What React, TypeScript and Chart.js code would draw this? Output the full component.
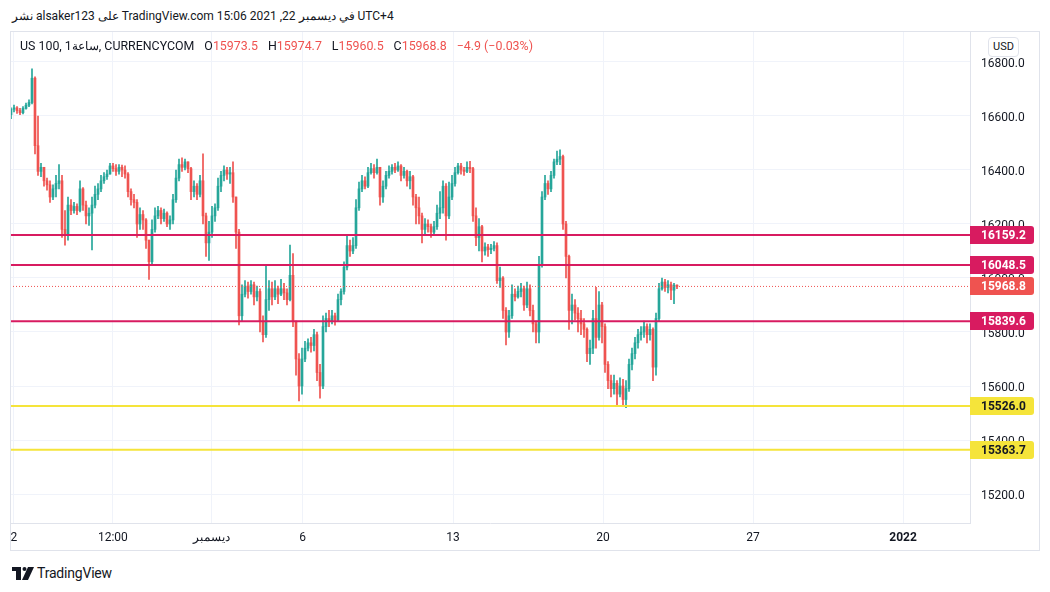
import React, { useEffect, useRef } from "react";
import { Chart, registerables } from "chart.js";

Chart.register(...registerables);

// ---- Data (hourly US 100 candles) ----
const OPEN_FIRST = 16605;
const CLOSES = [
  16625, 16630, 16620, 16612, 16628, 16640, 16650, 16740, 16490, 16395,
  16410, 16360, 16345, 16300, 16330, 16350, 16360, 16180, 16160, 16270,
  16250, 16265, 16250, 16330, 16270, 16230, 16240, 16270, 16310, 16330,
  16360, 16375, 16385, 16415, 16405, 16395, 16410, 16400, 16385, 16320,
  16290, 16280, 16200, 16235, 16215, 16140, 16060, 16180, 16230, 16250,
  16220, 16240, 16200, 16215, 16290, 16370, 16420, 16410, 16430, 16405,
  16320, 16340, 16310, 16360, 16230, 16130, 16170, 16230, 16260, 16340,
  16380, 16400, 16385, 16390, 16300, 16170, 15860, 15940, 15970, 15950,
  15975, 15930, 15950, 15840, 15790, 15920, 15960, 15930, 15960, 15940,
  15960, 15945, 15920, 16010, 15840, 15700, 15600, 15700, 15740, 15760,
  15750, 15790, 15650, 15600, 15820, 15850, 15840, 15860, 15845, 15920,
  15950, 16040, 16120, 16100, 16120, 16260, 16330, 16360, 16340, 16390,
  16405, 16390, 16410, 16300, 16340, 16380, 16395, 16410, 16400, 16415,
  16380, 16395, 16360, 16375, 16300, 16260, 16230, 16180, 16200, 16190,
  16170, 16190, 16240, 16260, 16340, 16230, 16300, 16350, 16390, 16415,
  16400, 16395, 16410, 16405, 16230, 16150, 16190, 16100, 16115, 16105,
  16110, 16120, 15990, 16000, 15880, 15800, 15860, 15940, 15930, 15950,
  15960, 15900, 15960, 15880, 15830, 15800, 16050, 16300, 16350, 16330,
  16380, 16430, 16440, 16450, 16200, 16080, 15880, 15900, 15870, 15850,
  15830, 15810, 15720, 15740, 15850, 15780, 15900, 15820, 15680, 15620,
  15590, 15610, 15570, 15600, 15550, 15590, 15680, 15720, 15760, 15790,
  15800, 15820, 15790, 15810, 15670, 15850, 15960, 15985, 15965, 15975,
  15955, 15973.5, 15968.8,
];
const HIGHS = [
  16630, 16640, 16635, 16628, 16635, 16648, 16660, 16775, 16745, 16600,
  16425, 16405, 16370, 16360, 16345, 16380, 16420, 16380, 16250, 16300,
  16290, 16280, 16275, 16360, 16335, 16285, 16260, 16300, 16340, 16350,
  16380, 16390, 16400, 16425, 16425, 16420, 16420, 16418, 16415, 16390,
  16330, 16310, 16290, 16260, 16250, 16220, 16140, 16215, 16260, 16265,
  16260, 16255, 16245, 16230, 16310, 16400, 16440, 16445, 16440, 16430,
  16410, 16360, 16350, 16380, 16460, 16240, 16210, 16265, 16275, 16370,
  16395, 16415, 16410, 16410, 16430, 16300, 16180, 15975, 15990, 15985,
  15990, 15985, 15970, 15960, 15860, 16050, 15990, 15985, 15990, 15970,
  15995, 15980, 15960, 16122, 16090, 15840, 15720, 15740, 15765, 15775,
  15780, 15810, 15800, 15680, 15860, 15870, 15880, 15880, 15870, 15940,
  15960, 16060, 16160, 16140, 16150, 16290, 16355, 16380, 16375, 16410,
  16425, 16420, 16440, 16410, 16360, 16395, 16415, 16420, 16425, 16430,
  16420, 16410, 16400, 16395, 16380, 16310, 16300, 16240, 16220, 16215,
  16200, 16210, 16270, 16320, 16360, 16350, 16355, 16380, 16410, 16425,
  16425, 16410, 16430, 16432, 16410, 16260, 16220, 16195, 16130, 16125,
  16125, 16135, 16130, 16040, 16005, 15890, 15880, 15975, 15960, 15970,
  15980, 15970, 15985, 15975, 15900, 15840, 16080, 16320, 16380, 16360,
  16395, 16440, 16470, 16475, 16455, 16210, 16085, 15940, 15920, 15890,
  15880, 15850, 15815, 15770, 15880, 15965, 15950, 15910, 15830, 15690,
  15640, 15640, 15620, 15630, 15625, 15620, 15700, 15740, 15780, 15810,
  15820, 15840, 15830, 15830, 15815, 15870, 15980, 16000, 15995, 15990,
  15985, 15980, 15974.7,
];
const LOWS = [
  16590, 16615, 16610, 16605, 16608, 16625, 16635, 16645, 16460, 16380,
  16375, 16340, 16325, 16280, 16290, 16300, 16330, 16150, 16122, 16140,
  16235, 16240, 16235, 16245, 16250, 16200, 16195, 16104, 16260, 16290,
  16320, 16350, 16365, 16385, 16395, 16380, 16385, 16375, 16370, 16300,
  16270, 16260, 16150, 16180, 16180, 16110, 15995, 16050, 16170, 16220,
  16200, 16210, 16190, 16180, 16200, 16280, 16360, 16395, 16400, 16390,
  16290, 16300, 16290, 16300, 16200, 16080, 16065, 16150, 16210, 16250,
  16320, 16360, 16365, 16350, 16280, 16110, 15826, 15840, 15930, 15925,
  15940, 15900, 15915, 15800, 15763, 15780, 15880, 15900, 15920, 15905,
  15935, 15920, 15900, 15915, 15820, 15640, 15545, 15570, 15690, 15730,
  15725, 15730, 15620, 15555, 15590, 15800, 15820, 15830, 15825, 15840,
  15900, 15940, 16030, 16080, 16090, 16110, 16250, 16320, 16330, 16335,
  16385, 16370, 16385, 16270, 16280, 16330, 16370, 16385, 16390, 16395,
  16360, 16370, 16340, 16330, 16270, 16200, 16200, 16130, 16160, 16170,
  16150, 16160, 16180, 16220, 16240, 16140, 16220, 16290, 16340, 16385,
  16385, 16380, 16390, 16390, 16210, 16120, 16100, 16060, 16085, 16080,
  16090, 16100, 15980, 15965, 15850, 15752, 15780, 15850, 15915, 15925,
  15930, 15880, 15890, 15860, 15800, 15760, 15760, 16040, 16290, 16310,
  16320, 16370, 16420, 16420, 16180, 16000, 15810, 15830, 15845, 15800,
  15790, 15780, 15690, 15680, 15720, 15740, 15770, 15760, 15650, 15590,
  15560, 15570, 15526, 15560, 15530, 15520, 15580, 15660, 15700, 15740,
  15770, 15780, 15760, 15770, 15620, 15640, 15840, 15955, 15950, 15945,
  15920, 15905, 15960.5,
];

const LEVELS = [16159.2, 16048.5, 15839.6, 15526.0, 15363.7];
const LEVEL_COLORS = ["#d81b60", "#d81b60", "#d81b60", "#f5e43a", "#f5e43a"];
const LEVEL_TEXT = ["#ffffff", "#ffffff", "#ffffff", "#131722", "#131722"];
const LAST_PRICE = 15968.8;

const Y_TICKS = [15200, 15400, 15600, 15800, 16000, 16200, 16400, 16600, 16800];
const X_TICK_POS = [1.3, 34.3, 67, 97.5, 147.7, 197.7, 247.7, 297.7];
const X_TICK_LABELS = ["2", "12:00", "ديسمبر", "6", "13", "20", "27", "2022"];

const UP = "#26a69a";
const DOWN = "#ef5350";
const FONT = "Roboto, 'Noto Sans', sans-serif";

const zeroPadding = (scale: any) => {
  scale.paddingLeft = 0;
  scale.paddingRight = 0;
  scale.paddingTop = 0;
  scale.paddingBottom = 0;
};

export default function App() {
  const canvasRef = useRef<HTMLCanvasElement | null>(null);

  useEffect(() => {
    const canvas = canvasRef.current;
    if (!canvas) return;

    const candles = CLOSES.map((c, i) => {
      const o = i === 0 ? OPEN_FIRST : CLOSES[i - 1];
      return { x: i + 1 / 3, o, c, h: HIGHS[i], l: LOWS[i] };
    });
    const colors = candles.map((k) => (k.c >= k.o ? UP : DOWN));

    const levelDatasets: any[] = LEVELS.map((v, i) => ({
      type: "line",
      data: [
        { x: 0, y: v },
        { x: 320, y: v },
      ],
      borderColor: LEVEL_COLORS[i],
      borderWidth: 2,
      pointRadius: 0,
      order: 0,
    }));

    const labelPlugin = {
      id: "priceLabels",
      afterDraw(chart: any) {
        const ctx = chart.ctx;
        const ys = chart.scales.y;
        const left = chart.chartArea.right;
        const items = [
          ...LEVELS.map((v, i) => ({ v, bg: LEVEL_COLORS[i], fg: LEVEL_TEXT[i] })),
          { v: LAST_PRICE, bg: "#ef5350", fg: "#ffffff" },
        ];
        ctx.save();
        items.forEach((it) => {
          const y = Math.round(ys.getPixelForValue(it.v));
          const w = 64;
          const h = 18;
          const x0 = left;
          const y0 = y - h / 2;
          const r = 3;
          ctx.beginPath();
          ctx.moveTo(x0, y0);
          ctx.lineTo(x0 + w - r, y0);
          ctx.quadraticCurveTo(x0 + w, y0, x0 + w, y0 + r);
          ctx.lineTo(x0 + w, y0 + h - r);
          ctx.quadraticCurveTo(x0 + w, y0 + h, x0 + w - r, y0 + h);
          ctx.lineTo(x0, y0 + h);
          ctx.closePath();
          ctx.fillStyle = it.bg;
          ctx.fill();
          ctx.fillStyle = it.fg;
          ctx.font = `bold 12px ${FONT}`;
          ctx.textAlign = "left";
          ctx.textBaseline = "middle";
          ctx.fillText(it.v.toFixed(1), left + 11, y + 1);
        });
        ctx.restore();
      },
    };

    const chart = new Chart(canvas, {
      type: "bar",
      data: {
        datasets: [
          ...levelDatasets,
          {
            type: "line",
            data: [
              { x: 0, y: LAST_PRICE },
              { x: 320, y: LAST_PRICE },
            ],
            borderColor: "#ef5350",
            borderWidth: 1,
            borderDash: [1, 2],
            pointRadius: 0,
            order: 0,
          },
          {
            type: "bar",
            data: candles.map((k) => ({ x: k.x, y: [k.o, k.c] })),
            backgroundColor: colors,
            borderWidth: 0,
            barThickness: 2,
            minBarLength: 1,
            grouped: false,
            order: 1,
          },
          {
            type: "bar",
            data: candles.map((k) => ({ x: k.x, y: [k.l, k.h] })),
            backgroundColor: colors,
            borderWidth: 0,
            barThickness: 1,
            grouped: false,
            order: 2,
          },
        ] as any,
      },
      options: {
        responsive: false,
        animation: false,
        events: [],
        layout: { padding: 0 },
        plugins: {
          legend: { display: false },
          tooltip: { enabled: false },
        },
        scales: {
          x: {
            type: "linear",
            min: 0,
            max: 320,
            offset: false,
            grid: { color: "#f0f3fa", drawTicks: false, offset: false },
            border: { display: true, color: "#e0e3eb" },
            afterBuildTicks: (scale: any) => {
              scale.ticks = X_TICK_POS.map((v) => ({ value: v }));
            },
            afterFit: (scale: any) => {
              scale.height = 28;
              zeroPadding(scale);
            },
            ticks: {
              autoSkip: false,
              maxRotation: 0,
              padding: 8,
              color: "#131722",
              font: (ctx: any) => ({
                family: FONT,
                size: 12,
                weight: ctx.index === 7 ? "bold" : "normal",
              }),
              callback: (_v: any, i: number) => X_TICK_LABELS[i],
            },
          },
          y: {
            type: "linear",
            position: "right",
            min: 15092.6,
            max: 16914.8,
            grid: { color: "#f0f3fa", drawTicks: false },
            border: { display: true, color: "#e0e3eb" },
            afterBuildTicks: (scale: any) => {
              scale.ticks = Y_TICKS.map((v) => ({ value: v }));
            },
            afterFit: (scale: any) => {
              scale.width = 70;
              zeroPadding(scale);
            },
            ticks: {
              padding: 11,
              labelOffset: 2,
              color: "#131722",
              font: { family: FONT, size: 12 },
              callback: (v: any) => Number(v).toFixed(1),
            },
          },
        },
      } as any,
      plugins: [labelPlugin],
    });

    return () => chart.destroy();
  }, []);

  const red = { color: "#ef5350" };
  const gap = { marginLeft: 10 };

  return (
    <div
      style={{
        position: "absolute",
        left: 0,
        top: 0,
        width: 1050,
        height: 592,
        background: "#ffffff",
        fontFamily: FONT,
        color: "#131722",
        overflow: "hidden",
      }}
    >
      <div
        style={{
          position: "absolute",
          left: 12,
          top: 9,
          fontSize: 12,
          whiteSpace: "nowrap",
          direction: "ltr",
        }}
      >
        نشر alsaker123 على TradingView.com في ديسمبر 22, 2021 15:06 UTC+4
      </div>

      <canvas
        ref={canvasRef}
        width={1030}
        height={520}
        style={{ position: "absolute", left: 10, top: 31, width: 1030, height: 520 }}
      />
      <div
        style={{
          position: "absolute",
          left: 10,
          top: 31,
          width: 1030,
          height: 520,
          boxSizing: "border-box",
          border: "1px solid #e0e3eb",
          pointerEvents: "none",
        }}
      />

      <div
        style={{
          position: "absolute",
          left: 20,
          top: 38,
          fontSize: 12.4,
          whiteSpace: "nowrap",
          direction: "ltr",
        }}
      >
        <span>US 100, 1ساعة, CURRENCYCOM</span>
        <span style={gap}>O</span>
        <span style={red}>15973.5</span>
        <span style={gap}>H</span>
        <span style={red}>15974.7</span>
        <span style={gap}>L</span>
        <span style={red}>15960.5</span>
        <span style={gap}>C</span>
        <span style={red}>15968.8</span>
        <span style={{ ...red, ...gap }}>−4.9 (−0.03%)</span>
      </div>

      <div
        style={{
          position: "absolute",
          left: 988,
          top: 37,
          width: 31,
          height: 20,
          boxSizing: "border-box",
          border: "1px solid #e0e3eb",
          borderRadius: 4,
          fontSize: 11,
          lineHeight: "18px",
          textAlign: "center",
          background: "#ffffff",
        }}
      >
        USD
      </div>

      <div
        style={{
          position: "absolute",
          left: 12,
          top: 565,
          display: "flex",
          alignItems: "center",
        }}
      >
        <svg width="22" height="13" viewBox="0 0 22 13">
          <rect x="0" y="0" width="9" height="4" fill="#131722" />
          <rect x="4" y="0" width="5" height="13" fill="#131722" />
          <circle cx="12.5" cy="2" r="2" fill="#131722" />
          <polygon points="16,0 22,0 16,13 10,13" fill="#131722" />
        </svg>
        <span style={{ marginLeft: 3, fontSize: 14, letterSpacing: -0.2 }}>TradingView</span>
      </div>
    </div>
  );
}
